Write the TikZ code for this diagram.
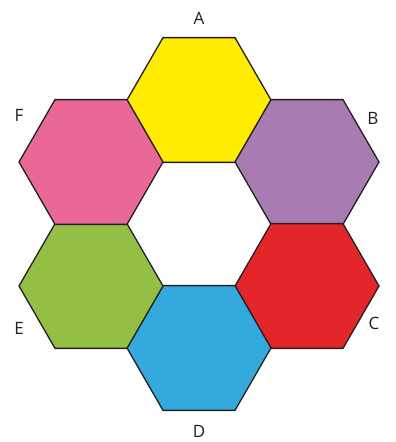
\documentclass[tikz,border=0pt]{standalone}
\usepackage{fontspec}
\setmainfont{Open Sans}
\usetikzlibrary{calc}
\definecolor{hA}{HTML}{FFEC00}
\definecolor{hB}{HTML}{A87CB3}
\definecolor{hC}{HTML}{E2262A}
\definecolor{hD}{HTML}{34A9DD}
\definecolor{hE}{HTML}{94BF45}
\definecolor{hF}{HTML}{EA6897}
\definecolor{lbl}{HTML}{231F20}
\begin{document}
\begin{tikzpicture}[x=1pt,y=-1pt,
  hexa/.style={draw=lbl, line width=1.3pt, line join=miter},
  lab/.style={text=lbl, font=\fontsize{17}{17}\selectfont, inner sep=0pt}]
\useasboundingbox (0,0) rectangle (396,442);
\coordinate (A) at (199,100);
\coordinate (B) at (307,162);
\coordinate (C) at (307,286);
\coordinate (D) at (199,348);
\coordinate (E) at (91,286);
\coordinate (F) at (91,162);
\foreach \c/\f in {A/hA,B/hB,C/hC,D/hD,E/hE,F/hF}{
  \filldraw[hexa, fill=\f] ($(\c)+(0:72)$) \foreach \a in {60,120,...,300}{ -- ($(\c)+(\a:72)$)} -- cycle;
}
\node[lab] (lA) at (199,18) {A};
\node[lab] (lB) at (373,118) {B};
\node[lab] (lC) at (374,323) {C};
\node[lab] (lD) at (199,431) {D};
\node[lab] (lE) at (19,328) {E};
\node[lab] (lF) at (19,115) {F};
\end{tikzpicture}
\end{document}
